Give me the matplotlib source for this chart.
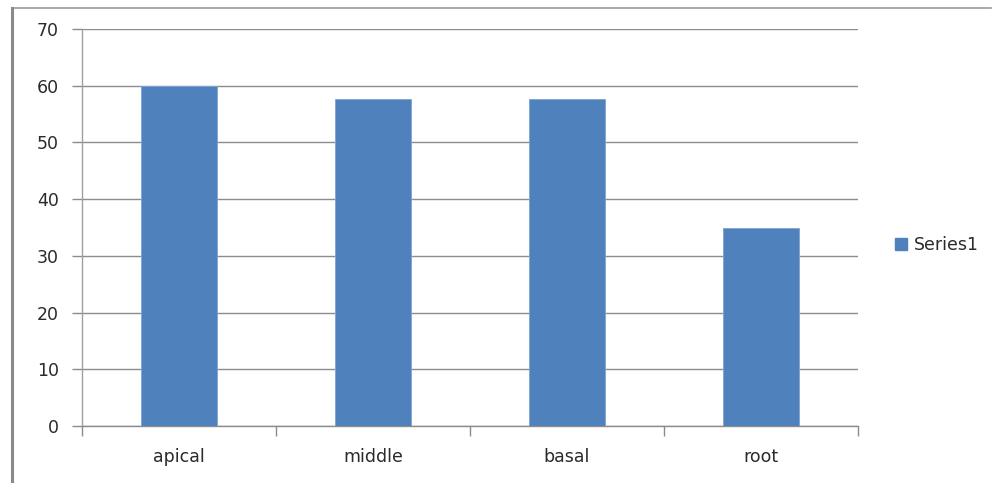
import matplotlib
matplotlib.use("Agg")
import matplotlib.pyplot as plt
from matplotlib.lines import Line2D
from matplotlib.patches import Patch
import numpy as np

categories = ["apical", "middle", "basal", "root"]
series1 = [60, 57.7, 57.7, 35]
series_name = "Series1"
y_ticks = [0, 10, 20, 30, 40, 50, 60, 70]

W, H = 992, 483
fig = plt.figure(figsize=(W / 100, H / 100), dpi=100)
fig.patch.set_facecolor("white")

ax = fig.add_axes([82 / W, 1 - 426 / H, (858 - 82) / W, (426 - 29) / H])
x = np.arange(len(categories))
bar_color = "#4F81BD"
ax.bar(x, series1, width=0.39, color=bar_color, edgecolor="#7FA3D3",
       linewidth=0.6, zorder=3)

ax.set_xlim(-0.5, len(categories) - 0.5)
ax.set_ylim(0, 70)
ax.set_yticks(y_ticks)
ax.set_yticklabels([str(t) for t in y_ticks])
ax.yaxis.grid(True, color="#8C8C8C", linewidth=1.0, zorder=0)

# category labels centered under bars, tick marks at the category boundaries
ax.set_xticks(np.arange(-0.5, len(categories), 1.0))
ax.set_xticklabels([])
ax.set_xticks(x, minor=True)
ax.set_xticklabels(categories, minor=True)
ax.tick_params(axis="x", which="minor", length=0, pad=16, labelsize=12.5,
               labelcolor="#2A2A2A")
ax.tick_params(axis="x", which="major", length=7, width=1.0, color="#8C8C8C",
               direction="out")
ax.tick_params(axis="y", length=7, width=1.0, color="#8C8C8C", pad=9.5,
               labelsize=12.5, labelcolor="#2A2A2A")

for side in ("top", "right"):
    ax.spines[side].set_visible(False)
ax.spines["left"].set_color("#A0A0A0")
ax.spines["bottom"].set_color("#8C8C8C")
ax.spines["left"].set_linewidth(1.0)
ax.spines["bottom"].set_linewidth(1.0)

leg = fig.legend(handles=[Patch(facecolor=bar_color, edgecolor=bar_color,
                                label=series_name)],
                 loc="center left", bbox_to_anchor=(879 / W, 1 - 245 / H),
                 frameon=False, fontsize=12.5, handlelength=0.7,
                 handleheight=0.7, handletextpad=0.4)
for t in leg.get_texts():
    t.set_color("#2A2A2A")

# outer frame lines along the top and left edges
fig.add_artist(Line2D([11.5 / W, 991 / W], [1 - 7.5 / H, 1 - 7.5 / H],
                      transform=fig.transFigure, color="#9A9A9A", linewidth=1.2))
fig.add_artist(Line2D([11.5 / W, 11.5 / W], [0, 1 - 7.5 / H],
                      transform=fig.transFigure, color="#8A8A8A", linewidth=2.2))

fig.savefig("out.png", dpi=100, facecolor="white")
